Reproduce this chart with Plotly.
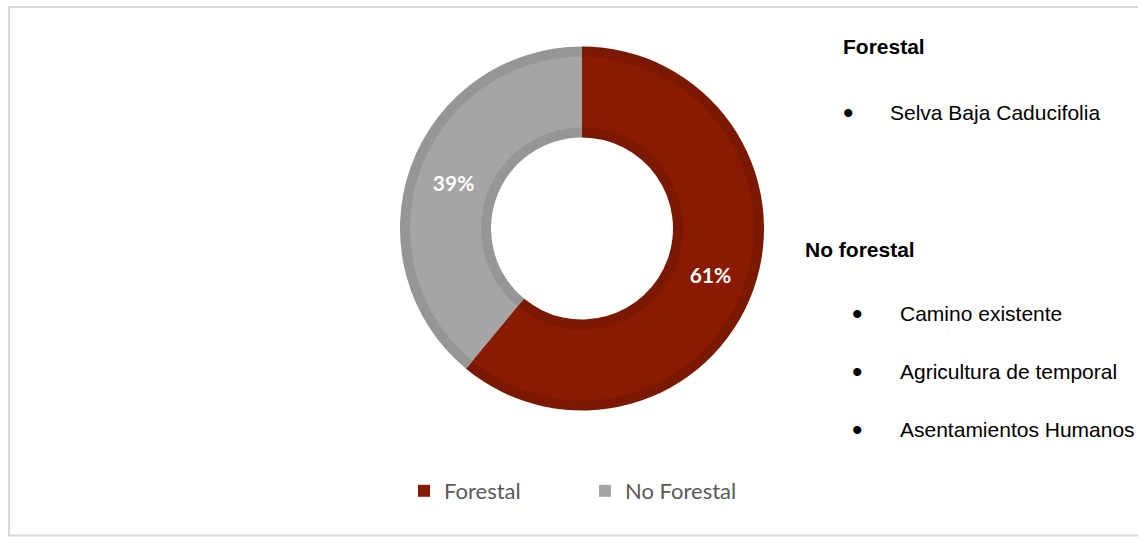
import plotly.graph_objects as go

W, H = 1138, 537

# ---- data ----
labels = ["Forestal", "No Forestal"]
values = [61, 39]
fill_colors = ["#8A1A00", "#A5A5A5"]
band_colors = ["#7A1800", "#969696"]

side_headers = ["Forestal", "No forestal"]
forestal_items = ["Selva Baja Caducifolia"]
no_forestal_items = ["Camino existente", "Agricultura de temporal", "Asentamientos Humanos"]


def px_x(x):
    return x / W


def px_y(y):
    return 1 - y / H


cx, cy = 582, 228.5
r_out, r_in, band = 182, 91, 10

fig = go.Figure()

# darker band ring (underneath)
fig.add_trace(go.Pie(
    labels=labels, values=values, sort=False, direction="clockwise", rotation=0,
    hole=r_in / r_out,
    domain=dict(x=[px_x(cx - r_out), px_x(cx + r_out)], y=[px_y(cy + r_out), px_y(cy - r_out)]),
    marker=dict(colors=band_colors, line=dict(width=0)),
    textinfo="none", showlegend=False, hoverinfo="skip",
))

# main fill ring
ro2, ri2 = r_out - band, r_in + band
fig.add_trace(go.Pie(
    labels=labels, values=values, sort=False, direction="clockwise", rotation=0,
    hole=ri2 / ro2,
    domain=dict(x=[px_x(cx - ro2), px_x(cx + ro2)], y=[px_y(cy + ro2), px_y(cy - ro2)]),
    marker=dict(colors=fill_colors, line=dict(width=0)),
    texttemplate="%{value}%", textposition="inside", insidetextorientation="horizontal",
    textfont=dict(family="Lato", size=21, color="white", weight="bold"),
    showlegend=True,
))

annotations = []
text_font = dict(family="Liberation Sans, Arial", size=21, color="#000000")
bullet_font = dict(family="Liberation Sans, Arial", size=30, color="#000000")

# headers
header_pos = [(841, 46), (803, 249)]
for txt, (x, y) in zip(side_headers, header_pos):
    annotations.append(dict(text=f"<b>{txt}</b>", x=px_x(x), y=px_y(y), xref="paper", yref="paper",
                            xanchor="left", yanchor="middle", showarrow=False, font=text_font))

# bullet items
item_pos = [(848, 888, 112)] + [(857, 898, y) for y in (313, 371, 429)]
for txt, (bx, tx, y) in zip(forestal_items + no_forestal_items, item_pos):
    annotations.append(dict(text="•", x=px_x(bx), y=px_y(y), xref="paper", yref="paper",
                            xanchor="center", yanchor="middle", showarrow=False, font=bullet_font))
    annotations.append(dict(text=txt, x=px_x(tx), y=px_y(y), xref="paper", yref="paper",
                            xanchor="left", yanchor="middle", showarrow=False, font=text_font))

fig.update_layout(
    width=W, height=H,
    margin=dict(l=0, r=0, t=0, b=0),
    paper_bgcolor="white", plot_bgcolor="white",
    annotations=annotations,
    shapes=[dict(type="rect", xref="paper", yref="paper",
                 x0=px_x(9), x1=px_x(W + 10), y0=px_y(535.5), y1=px_y(7),
                 line=dict(color="#D9D9D9", width=2), fillcolor="rgba(0,0,0,0)")],
    legend=dict(orientation="h", x=px_x(404), y=px_y(491), xanchor="left", yanchor="middle",
                font=dict(family="Lato", size=22, color="#595959"),
                entrywidth=136, bgcolor="rgba(0,0,0,0)", traceorder="normal"),
)

fig.write_html("out.html")
